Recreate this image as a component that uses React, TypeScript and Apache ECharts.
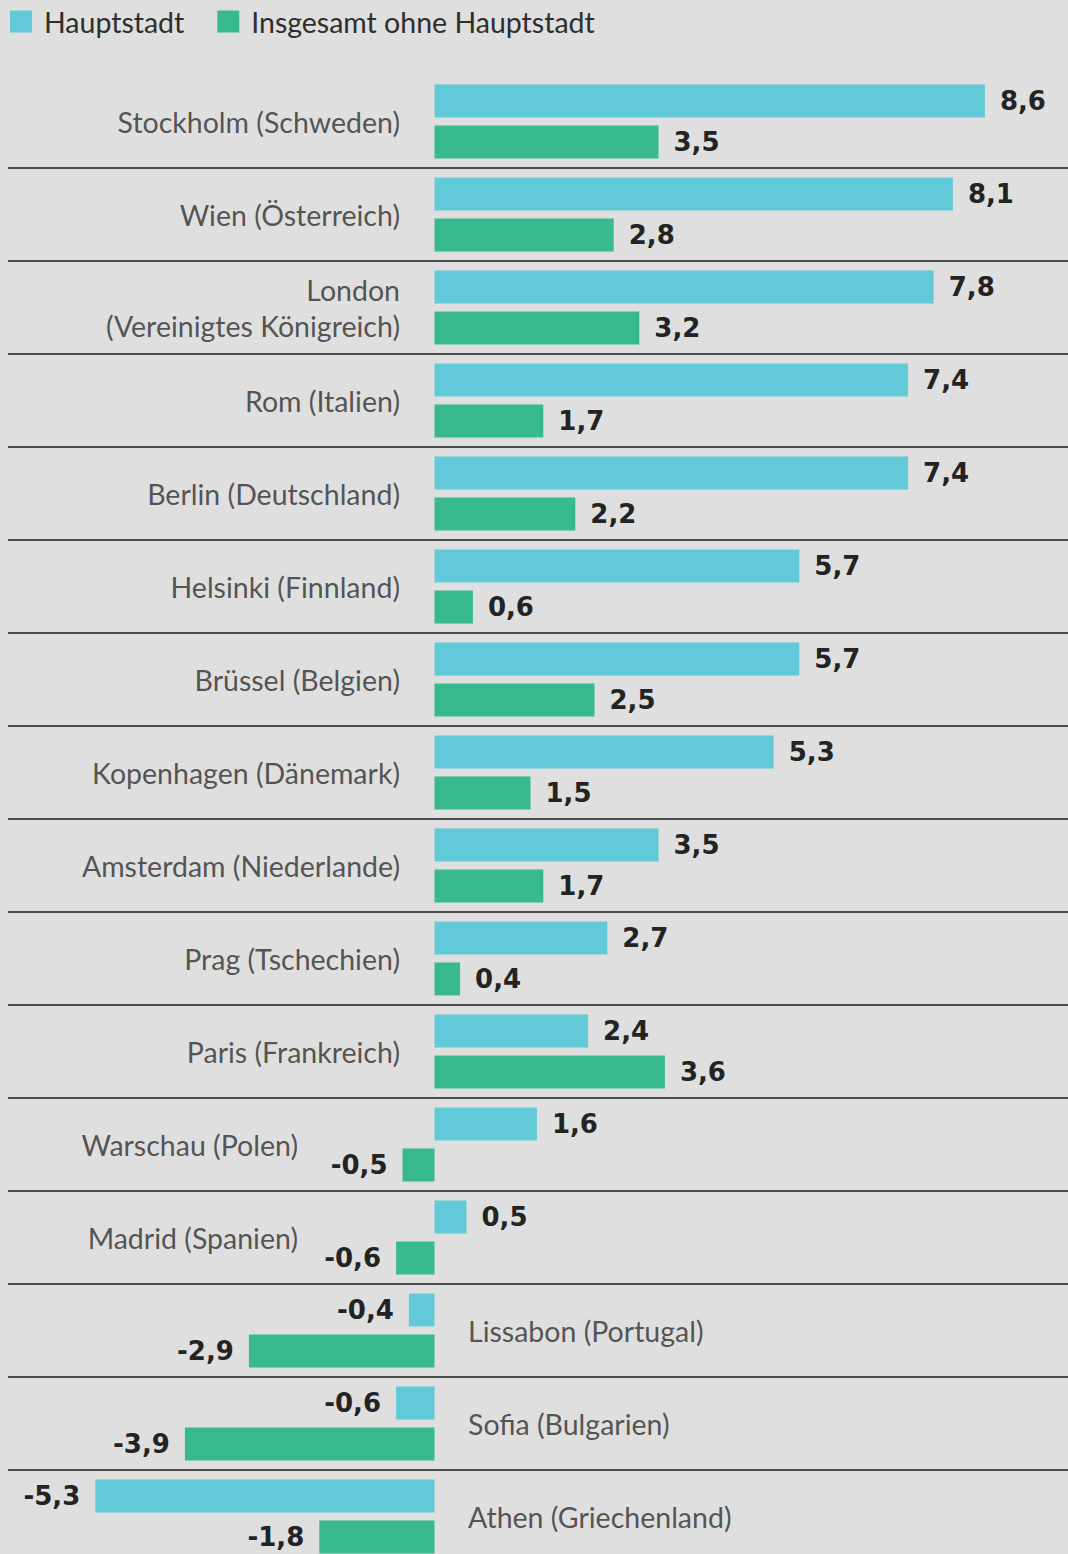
import React, { useEffect, useRef } from 'react';
import * as echarts from 'echarts';

const categories = [
  'Stockholm (Schweden)',
  'Wien (Österreich)',
  'London\n(Vereinigtes Königreich)',
  'Rom (Italien)',
  'Berlin (Deutschland)',
  'Helsinki (Finnland)',
  'Brüssel (Belgien)',
  'Kopenhagen (Dänemark)',
  'Amsterdam (Niederlande)',
  'Prag (Tschechien)',
  'Paris (Frankreich)',
  'Warschau (Polen)',
  'Madrid (Spanien)',
  'Lissabon (Portugal)',
  'Sofia (Bulgarien)',
  'Athen (Griechenland)',
];
const capitalValues = [8.6, 8.1, 7.8, 7.4, 7.4, 5.7, 5.7, 5.3, 3.5, 2.7, 2.4, 1.6, 0.5, -0.4, -0.6, -5.3];
const restValues = [3.5, 2.8, 3.2, 1.7, 2.2, 0.6, 2.5, 1.5, 1.7, 0.4, 3.6, -0.5, -0.6, -2.9, -3.9, -1.8];
const seriesNames = ['Hauptstadt', 'Insgesamt ohne Hauptstadt'];

const FONT = 'Lato';
const VALUE_FONT = 'DejaVu Sans';
const CYAN = '#62c9d8';
const GREEN = '#38b98f';
const TEXT = '#232323';

const fmt = (v: number) => v.toFixed(1).replace('.', ',');

export default function App() {
  const ref = useRef<HTMLDivElement>(null);
  useEffect(() => {
    if (!ref.current) return;
    const chart = echarts.init(ref.current, undefined, { renderer: 'svg' });

    const barData = (vals: number[]) =>
      vals.map((v) => ({
        value: v,
        label: { position: v < 0 ? 'left' : 'right' },
      }));

    const catLabelData = categories.map((c, i) => {
      const cap = capitalValues[i];
      const rest = restValues[i];
      let position = 'left';
      let distance = 34;
      if (cap < 0) {
        position = 'right';
        distance = 33;
      } else if (rest < 0) {
        position = 'left';
        distance = 136;
      }
      return {
        value: [0, i],
        label: { position, distance, align: position === 'left' ? 'right' : 'left' },
      };
    });

    const valueLabel = {
      show: true,
      distance: 15,
      fontFamily: VALUE_FONT,
      fontWeight: 'bold',
      fontSize: 26,
      color: TEXT,
      formatter: (p: any) => fmt(p.value),
    };

    chart.setOption({
      animation: false,
      backgroundColor: '#dfdfdf',
      textStyle: { fontFamily: FONT },
      legend: {
        data: seriesNames,
        left: 10,
        top: 7,
        padding: 0,
        itemWidth: 22,
        itemHeight: 22,
        itemGap: 33,
        icon: 'rect',
        textStyle: { fontFamily: FONT, fontSize: 28.5, color: '#2e2e2e', padding: [0, 0, 0, 7] },
      },
      grid: [
        { left: 50.5, width: 992, top: 75, height: 1488, containLabel: false },
        { left: 8, right: 0, top: 75, height: 1488, containLabel: false },
      ],
      xAxis: [
        { type: 'value', gridIndex: 0, min: -6, max: 9.5, show: false },
        { type: 'value', gridIndex: 1, min: 0, max: 1, show: false },
      ],
      yAxis: [
        {
          type: 'category',
          gridIndex: 0,
          data: categories,
          inverse: true,
          axisLine: { show: false },
          axisTick: { show: false },
          axisLabel: { show: false },
          splitLine: { show: false },
        },
        {
          type: 'category',
          gridIndex: 1,
          data: categories,
          inverse: true,
          axisLine: { show: false },
          axisTick: { show: false },
          axisLabel: { show: false },
          splitLine: {
            show: true,
            showMinLine: false,
            showMaxLine: false,
            lineStyle: { color: '#4a4a4a', width: 2 },
          },
        },
      ],
      series: [
        {
          name: seriesNames[0],
          type: 'bar',
          xAxisIndex: 0,
          yAxisIndex: 0,
          data: barData(capitalValues),
          barWidth: 33,
          barGap: '24%',
          itemStyle: { color: CYAN },
          label: valueLabel,
        },
        {
          name: seriesNames[1],
          type: 'bar',
          xAxisIndex: 0,
          yAxisIndex: 0,
          data: barData(restValues),
          barWidth: 33,
          barGap: '24%',
          itemStyle: { color: GREEN },
          label: valueLabel,
        },
        {
          name: 'labels',
          type: 'scatter',
          xAxisIndex: 0,
          yAxisIndex: 0,
          symbolSize: 1,
          itemStyle: { color: 'rgba(0,0,0,0)' },
          silent: true,
          data: catLabelData,
          label: {
            show: true,
            fontFamily: FONT,
            fontSize: 28.5,
            lineHeight: 36,
            color: '#2e2e2e',
            formatter: (p: any) => categories[p.dataIndex],
          },
        },
      ],
    });
    return () => chart.dispose();
  }, []);
  return (
    <div
      style={{ position: 'absolute', left: 0, top: 0, width: 1068, height: 1554, overflow: 'hidden' }}
    >
      <div ref={ref} style={{ width: 1068, height: 1580 }} />
    </div>
  );
}
